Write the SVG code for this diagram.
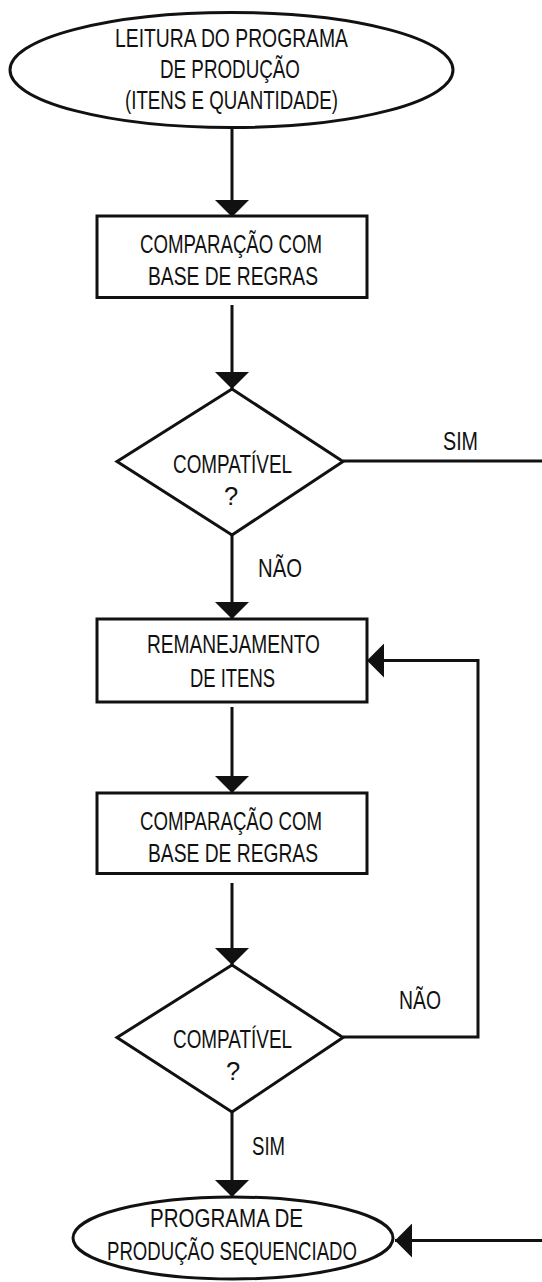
<svg xmlns="http://www.w3.org/2000/svg" width="542" height="1282" viewBox="0 0 542 1282">
<style>
.s{fill:#fff;stroke:#111;stroke-width:3}
.c{fill:none;stroke:#111;stroke-width:3}
text{font-family:"Liberation Sans",Arial,sans-serif;font-size:25.5px;fill:#111;text-anchor:middle}
</style>
<defs>
<marker id="ah" viewBox="0 0 17 34" refX="17" refY="17" markerWidth="17" markerHeight="34" orient="auto" markerUnits="userSpaceOnUse">
<path d="M0,0 L17,17 L0,34 z" fill="#111"/>
</marker>
</defs>
<rect width="542" height="1282" fill="#fff"/>
<g id="connectors">
<line class="c" x1="232" y1="127" x2="232" y2="217" marker-end="url(#ah)"/>
<line class="c" x1="232" y1="305" x2="232" y2="389" marker-end="url(#ah)"/>
<line class="c" x1="232" y1="535" x2="232" y2="619" marker-end="url(#ah)"/>
<line class="c" x1="232" y1="707" x2="232" y2="793" marker-end="url(#ah)"/>
<line class="c" x1="232" y1="883" x2="232" y2="965" marker-end="url(#ah)"/>
<line class="c" x1="232" y1="1112" x2="232" y2="1197" marker-end="url(#ah)"/>
<line class="c" x1="343" y1="461" x2="542" y2="461"/>
<polyline class="c" points="343,1037 478,1037 478,660.5 367,660.5" marker-end="url(#ah)"/>
<line class="c" x1="542" y1="1240.5" x2="395" y2="1240.5" marker-end="url(#ah)"/>
<text x="460.5" y="450" textLength="35" lengthAdjust="spacingAndGlyphs">SIM</text>
<text x="280" y="577" textLength="44" lengthAdjust="spacingAndGlyphs">NÃO</text>
<text x="420" y="1009" textLength="42" lengthAdjust="spacingAndGlyphs">NÃO</text>
<text x="268.5" y="1155" textLength="33" lengthAdjust="spacingAndGlyphs">SIM</text>
</g>
<g id="start">
<ellipse class="s" cx="231.5" cy="70" rx="221.5" ry="57.5"/>
<text x="231.5" y="46.5" textLength="233" lengthAdjust="spacingAndGlyphs">LEITURA DO PROGRAMA</text>
<text x="230" y="78" textLength="140" lengthAdjust="spacingAndGlyphs">DE PRODUÇÃO</text>
<text x="231.5" y="108.5" textLength="213" lengthAdjust="spacingAndGlyphs">(ITENS E QUANTIDADE)</text>
</g>
<g id="compare1">
<rect class="s" x="97" y="216" width="270" height="81.5"/>
<text x="231" y="253" textLength="182" lengthAdjust="spacingAndGlyphs">COMPARAÇÃO COM</text>
<text x="233" y="285" textLength="170" lengthAdjust="spacingAndGlyphs">BASE DE REGRAS</text>
</g>
<g id="decision1">
<polygon class="s" points="232,389 343,461.5 232,535 117,461.5"/>
<text x="232.5" y="473" textLength="119" lengthAdjust="spacingAndGlyphs">COMPATÍVEL</text>
<text x="231" y="505">?</text>
</g>
<g id="rearrange">
<rect class="s" x="97" y="619" width="270" height="83"/>
<text x="233.5" y="653" textLength="173" lengthAdjust="spacingAndGlyphs">REMANEJAMENTO</text>
<text x="232.5" y="687" textLength="85" lengthAdjust="spacingAndGlyphs">DE ITENS</text>
</g>
<g id="compare2">
<rect class="s" x="97" y="793" width="270" height="80.5"/>
<text x="231" y="830" textLength="182" lengthAdjust="spacingAndGlyphs">COMPARAÇÃO COM</text>
<text x="233" y="862" textLength="170" lengthAdjust="spacingAndGlyphs">BASE DE REGRAS</text>
</g>
<g id="decision2">
<polygon class="s" points="232,965 343,1037.5 232,1112 117,1037.5"/>
<text x="232.5" y="1048" textLength="119" lengthAdjust="spacingAndGlyphs">COMPATÍVEL</text>
<text x="233" y="1080">?</text>
</g>
<g id="end">
<ellipse class="s" cx="233" cy="1238" rx="160" ry="41"/>
<text x="226.5" y="1227" textLength="153" lengthAdjust="spacingAndGlyphs">PROGRAMA DE</text>
<text x="232" y="1260" textLength="250" lengthAdjust="spacingAndGlyphs">PRODUÇÃO SEQUENCIADO</text>
</g>
</svg>
